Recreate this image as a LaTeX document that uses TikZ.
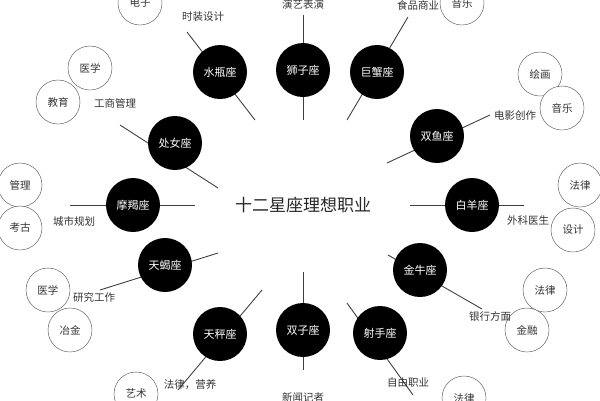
\documentclass[tikz,border=0pt]{standalone}
\usepackage{fontspec}
\setmainfont{Noto Sans CJK SC}
\begin{document}
\begin{tikzpicture}[x=1pt,y=-1pt,
  bc/.style={circle,fill=black,text=white,minimum size=54pt,inner sep=0pt,font=\fontsize{11}{11}\selectfont},
  wc/.style={circle,draw=black!70,fill=white,minimum size=44pt,inner sep=0pt,font=\fontsize{10.5}{11}\selectfont,text=black!80},
  lb/.style={inner sep=1pt,font=\fontsize{10.5}{11}\selectfont,text=black!80},
  ln/.style={draw=black!75,line width=0.9pt}]
\useasboundingbox (0,0) rectangle (600,400);
\node[font=\fontsize{17}{17}\selectfont,text=black!85] (c) at (303,205) {十二星座理想职业};
% connector endpoints
\foreach \n/\a/\b/\c/\d in {sp/255/120/187/32, sz/303/120/303/15, jx/347/120/408/17, sy/387/163/490/115,
  by/410/205/524/205, jn/388/255/482/309, ss/347/303/413/395, sz2/303/272/303/370,
  tc/262/290/178/390, tx/218/253/100/290, mj/195/205/70/205, cn/218/188/120/125}{
  \coordinate (\n i) at (\a,\b); \coordinate (\n o) at (\c,\d);}
\foreach \n in {sp,sz,jx,sy,by,jn,ss,sz2,tc,tx,mj,cn}{\draw[ln] (\n i) -- (\n o);}
\node[bc] (sp) at (220,72) {水瓶座};
\node[bc] (sz) at (303,70) {狮子座};
\node[bc] (jx) at (377,72) {巨蟹座};
\node[bc] (sy) at (437,136) {双鱼座};
\node[bc] (by) at (472,205) {白羊座};
\node[bc] (jn) at (420,270) {金牛座};
\node[bc] (ss) at (380,333) {射手座};
\node[bc] (sz2) at (303,330) {双子座};
\node[bc] (tc) at (220,334) {天秤座};
\node[bc] (tx) at (165,265) {天蝎座};
\node[bc] (mj) at (133,205) {摩羯座};
\node[bc] (cn) at (175,143) {处女座};
% white circles
\node[wc] (w1) at (140,3) {电子};
\node[wc] (w2) at (462,3) {音乐};
\node[wc] (w3) at (90,68) {医学};
\node[wc] (w4) at (58,102) {教育};
\node[wc] (w5) at (540,74) {绘画};
\node[wc] (w6) at (562,108) {音乐};
\node[wc] (w7) at (20,185) {管理};
\node[wc] (w8) at (20,228) {考古};
\node[wc] (w9) at (580,185) {法律};
\node[wc] (w10) at (573,230) {设计};
\node[wc] (w11) at (48,290) {医学};
\node[wc] (w12) at (70,330) {冶金};
\node[wc] (w13) at (545,290) {法律};
\node[wc] (w14) at (527,330) {金融};
\node[wc] (w15) at (136,394) {艺术};
\node[wc] (w16) at (464,398) {法律};
% labels
\node[lb] (l1) at (203,17) {时装设计};
\node[lb] (l2) at (303,4) {演艺表演};
\node[lb] (l3) at (418,5) {食品商业};
\node[lb] (l4) at (515,116) {电影创作};
\node[lb] (l5) at (528,220) {外科医生};
\node[lb] (l6) at (490,316) {银行方面};
\node[lb] (l7) at (408,382) {自由职业};
\node[lb] (l8) at (303,397) {新闻记者};
\node[lb] (l9) at (190,385) {法律，营养};
\node[lb] (l10) at (94,297) {研究工作};
\node[lb] (l11) at (74,221) {城市规划};
\node[lb] (l12) at (115,103) {工商管理};
\end{tikzpicture}
\end{document}
